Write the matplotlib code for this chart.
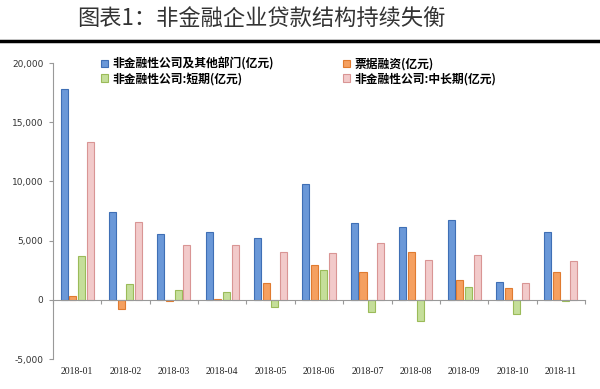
import numpy as np
import matplotlib
matplotlib.use("Agg")
import matplotlib.pyplot as plt
from matplotlib.lines import Line2D

plt.rcParams['font.family'] = ['Noto Sans CJK SC', 'DejaVu Sans']

months = ["2018-01", "2018-02", "2018-03", "2018-04", "2018-05", "2018-06",
          "2018-07", "2018-08", "2018-09", "2018-10", "2018-11"]
total = [17800, 7400, 5600, 5700, 5200, 9800, 6480, 6110, 6760, 1490, 5710]
bills = [350, -750, -100, 30, 1400, 2900, 2360, 4080, 1690, 1010, 2310]
short_term = [3700, 1350, 800, 700, -600, 2530, -1070, -1800, 1040, -1180, -60]
long_term = [13300, 6600, 4600, 4600, 4000, 3940, 4840, 3380, 3770, 1410, 3270]

labels = ["非金融性公司及其他部门(亿元)", "票据融资(亿元)",
          "非金融性公司:短期(亿元)", "非金融性公司:中长期(亿元)"]
faces = ["#6A98D8", "#F5A060", "#C5DE9A", "#F2CACA"]
edges = ["#3F6FB5", "#E07B30", "#9BBB59", "#D99594"]

fig = plt.figure(figsize=(6, 3.89), dpi=100)

fig.text(0.435, 0.953, "图表1：非金融企业贷款结构持续失衡", ha="center", va="center",
         fontsize=16, color="#333333", fontweight="light")
fig.add_artist(Line2D([0, 1], [0.895, 0.895], color="black", lw=2.5,
                      transform=fig.transFigure))

ax = fig.add_axes([0.0883, 0.0771, 0.8867, 0.7609])

x = np.arange(len(months))
series = [total, bills, short_term, long_term]
step = 0.18
width = 0.145
bars = []
for i, vals in enumerate(series):
    b = ax.bar(x + (i - 1.5) * step, vals, width, color=faces[i],
               edgecolor=edges[i], linewidth=0.8, label=labels[i])
    bars.append(b)

ax.set_xlim(-0.5, len(months) - 0.5)
ax.set_ylim(-5000, 20000)
ax.set_yticks(np.arange(-5000, 20001, 5000))
ax.set_yticklabels([f"{v:,}" for v in range(-5000, 20001, 5000)],
                   fontsize=6.5, family="DejaVu Sans", color="#333333")
ax.tick_params(axis="y", length=3, width=0.8, color="#999999", pad=4)

for s in ["top", "right"]:
    ax.spines[s].set_visible(False)
ax.spines["left"].set_color("#999999")
ax.spines["bottom"].set_position(("data", 0))
ax.spines["bottom"].set_color("#999999")
ax.set_xticks(np.arange(len(months) + 1) - 0.5)
ax.set_xticklabels([])
ax.tick_params(axis="x", length=3, width=0.8, color="#999999")

sec = ax.secondary_xaxis(0)
sec.set_xticks(x)
sec.set_xticklabels(months, fontsize=7, family="Liberation Serif", color="#222222")
sec.tick_params(length=0, pad=6)
sec.spines["bottom"].set_visible(False)

order = [0, 2, 1, 3]
leg = ax.legend([bars[i] for i in order], [labels[i] for i in order], ncol=2,
                loc="upper left", bbox_to_anchor=(0.07, 1.055), frameon=False,
                prop={"size": 8.5, "weight": "bold"}, handlelength=0.6,
                handleheight=0.6, handletextpad=0.4, columnspacing=5.8,
                labelspacing=0.15)

fig.savefig("out.png", dpi=100)
